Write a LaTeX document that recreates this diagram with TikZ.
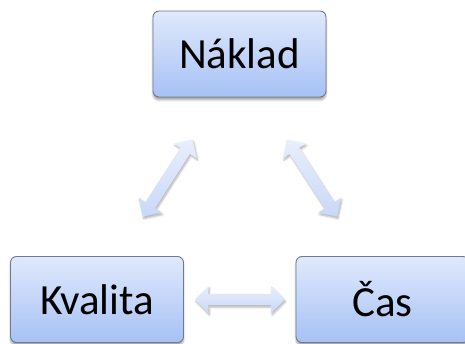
\documentclass[tikz,border=0pt]{standalone}
\usepackage{fontspec}
\setmainfont{Carlito}
\usetikzlibrary{shapes.arrows,shadows.blur,calc}
\definecolor{boxtop}{RGB}{224,233,252}
\definecolor{boxbot}{RGB}{166,193,245}
\definecolor{boxline}{RGB}{112,122,140}
\definecolor{arrtop}{RGB}{232,239,252}
\definecolor{arrbot}{RGB}{200,216,247}
\tikzset{
  box/.style={rectangle, rounded corners=6pt, draw=boxline, line width=0.9pt,
    top color=boxtop, bottom color=boxbot, minimum width=173pt, minimum height=86pt,
    inner sep=0pt, font=\fontsize{43}{50}\selectfont,
    blur shadow={shadow xshift=0pt, shadow yshift=-3pt, shadow blur steps=6, shadow opacity=35}},
  fatarrow/.style={double arrow, draw=none, inner xsep=0pt, inner ysep=5.5pt,
    double arrow head extend=8pt, double arrow head indent=0pt,
    top color=arrtop, bottom color=arrbot,
    blur shadow={shadow xshift=1pt, shadow yshift=-2pt, shadow blur steps=5, shadow opacity=30}}
}
\begin{document}
\begin{tikzpicture}[x=1pt,y=1pt]
\useasboundingbox (0,0) rectangle (465,343);
\node[box] (nak) at (239.5,289) {Náklad};
\node[box] (kva) at (97,43.5) {Kvalita};
\node[box] (cas) at (382.5,43.5) {Čas};
\coordinate (l1) at ($(nak.south)+(-47,-42)$);
\coordinate (l2) at ($(kva.north)+(46,39.5)$);
\coordinate (r1) at ($(nak.south)+(47.5,-42)$);
\coordinate (r2) at ($(cas.north)+(-45.5,39.5)$);
\path (l1) -- (l2) node[midway, sloped, fatarrow, minimum height=92pt] (al) {};
\path (r1) -- (r2) node[midway, sloped, fatarrow, minimum height=92pt] (ar) {};
\path (kva.east) -- (cas.west) node[midway, fatarrow, minimum height=90pt] (ah) {};
\end{tikzpicture}
\end{document}
